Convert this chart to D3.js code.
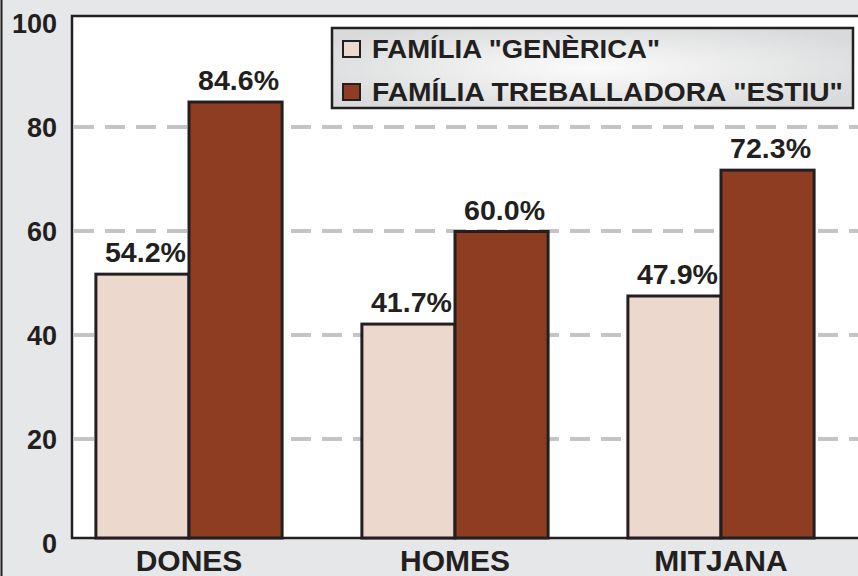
<!DOCTYPE html>
<html>
<head>
<meta charset="utf-8">
<script src="https://cdn.jsdelivr.net/npm/d3@7"></script>
<style>
  body { margin: 0; background: #e6e7e8; }
  svg { display: block; font-family: "Liberation Sans", Arial, sans-serif; font-weight: bold; }
</style>
</head>
<body>
<div class="container"></div>
<script>
const categories = ["DONES", "HOMES", "MITJANA"]
const series = ["FAMÍLIA \"GENÈRICA\"", "FAMÍLIA TREBALLADORA \"ESTIU\""]
// bar heights as drawn in the picture
const generica = [51.7, 42.1, 47.5]
const estiu = [84.8, 59.9, 71.7]
// printed labels over the bars
const genericaLabels = ["54.2%", "41.7%", "47.9%"]
const estiuLabels = ["84.6%", "60.0%", "72.3%"]
const yTicks = [0, 20, 40, 60, 80, 100]
const colors = ["#ecd8cd", "#8f3d22"]

const w = 858
const h = 576
const frameLeft = 72
const frameTop = 16
const frameBottom = 538

const svg = d3.select(".container")
    .append("svg")
    .attr("width", w)
    .attr("height", h)

// outer panel
svg.append("rect")
    .attr("x", 0).attr("y", 0)
    .attr("width", w).attr("height", h)
    .attr("fill", "#e6e7e8")
svg.append("line")
    .attr("x1", 1.5).attr("x2", 1.5)
    .attr("y1", 0).attr("y2", h)
    .attr("stroke", "#231f20").attr("stroke-width", 2)

const yScale = d3.scaleLinear()
    .domain([0, 100])
    .range([543, 23])

const xScale = d3.scaleBand()
    .domain(categories)
    .range([56, 854])
    .paddingInner(0.3)
    .paddingOuter(0.15)

const xSub = d3.scaleBand()
    .domain(series)
    .range([0, xScale.bandwidth()])

// plot area
svg.append("rect")
    .attr("x", frameLeft).attr("y", frameTop)
    .attr("width", w - frameLeft + 5).attr("height", frameBottom - frameTop)
    .attr("fill", "#ffffff")

// gridlines
svg.append("g")
    .selectAll("line")
    .data(yTicks.filter(d => d > 0 && d < 100))
    .enter()
    .append("line")
    .attr("x1", frameLeft + 2)
    .attr("x2", w)
    .attr("y1", d => yScale(d))
    .attr("y2", d => yScale(d))
    .attr("stroke", "#c4c4c4")
    .attr("stroke-width", 4)
    .attr("stroke-dasharray", "20 11")

// frame
svg.append("path")
    .attr("d", `M${w + 5},${frameTop} H${frameLeft} V${frameBottom} H${w + 5}`)
    .attr("fill", "none")
    .attr("stroke", "#231f20")
    .attr("stroke-width", 2.5)

// y axis labels
const yAxis = d3.axisLeft(yScale)
    .tickValues(yTicks)
    .tickSize(0)
    .tickPadding(0)
const gy = svg.append("g")
    .attr("transform", "translate(57,0)")
    .call(yAxis)
gy.select(".domain").remove()
gy.selectAll("text")
    .attr("font-size", 27)
    .attr("font-family", "Liberation Sans, Arial, sans-serif")
    .attr("font-weight", "bold")
    .attr("fill", "#231f20")
    .attr("dy", "0.36em")

// x axis labels
const xAxis = d3.axisBottom(xScale).tickSize(0).tickPadding(0)
const gx = svg.append("g")
    .attr("transform", "translate(0,571)")
    .call(xAxis)
gx.select(".domain").remove()
gx.selectAll("text")
    .attr("font-size", 30)
    .attr("font-family", "Liberation Sans, Arial, sans-serif")
    .attr("font-weight", "bold")
    .attr("fill", "#231f20")
    .attr("dy", 0)

// bars
const rows = categories.map((c, i) => ({
    cat: c,
    vals: [
        { s: series[0], v: generica[i], label: genericaLabels[i], k: 0 },
        { s: series[1], v: estiu[i], label: estiuLabels[i], k: 1 }
    ]
}))

const groups = svg.append("g")
    .selectAll("g")
    .data(rows)
    .enter()
    .append("g")
    .attr("transform", d => "translate(" + xScale(d.cat) + ",0)")

groups.selectAll("rect")
    .data(d => d.vals)
    .enter()
    .append("rect")
    .attr("x", d => xSub(d.s))
    .attr("y", d => yScale(d.v))
    .attr("width", xSub.bandwidth())
    .attr("height", d => frameBottom - yScale(d.v))
    .attr("fill", d => colors[d.k])
    .attr("stroke", "#231f20")
    .attr("stroke-width", 3)

groups.selectAll("text")
    .data(d => d.vals)
    .enter()
    .append("text")
    .attr("x", d => xSub(d.s) + xSub.bandwidth() / 2 + 3)
    .attr("y", d => yScale(d.v) - 12)
    .attr("text-anchor", "middle")
    .attr("font-size", 27)
    .attr("fill", "#231f20")
    .attr("textLength", 81)
    .attr("lengthAdjust", "spacingAndGlyphs")
    .text(d => d.label)

// legend
const defs = svg.append("defs")
const grad = defs.append("radialGradient")
    .attr("id", "legbg")
    .attr("cx", "50%").attr("cy", "50%").attr("r", "60%")
grad.append("stop").attr("offset", "0%").attr("stop-color", "#fbfbfb")
grad.append("stop").attr("offset", "100%").attr("stop-color", "#d9dadb")

const legend = svg.append("g")
legend.append("rect")
    .attr("x", 332).attr("y", 28)
    .attr("width", 521).attr("height", 80)
    .attr("fill", "url(#legbg)")
    .attr("stroke", "#231f20")
    .attr("stroke-width", 2.5)

const legendWidths = [288, 471]
series.forEach((s, i) => {
    legend.append("rect")
        .attr("x", 343).attr("y", 41 + i * 43)
        .attr("width", 17).attr("height", 16)
        .attr("fill", colors[i])
        .attr("stroke", "#231f20")
        .attr("stroke-width", 2)
    legend.append("text")
        .attr("x", 372).attr("y", 58 + i * 43)
        .attr("font-size", 25)
        .attr("fill", "#231f20")
        .attr("textLength", legendWidths[i])
        .attr("lengthAdjust", "spacingAndGlyphs")
        .text(s)
})
</script>
</body>
</html>
